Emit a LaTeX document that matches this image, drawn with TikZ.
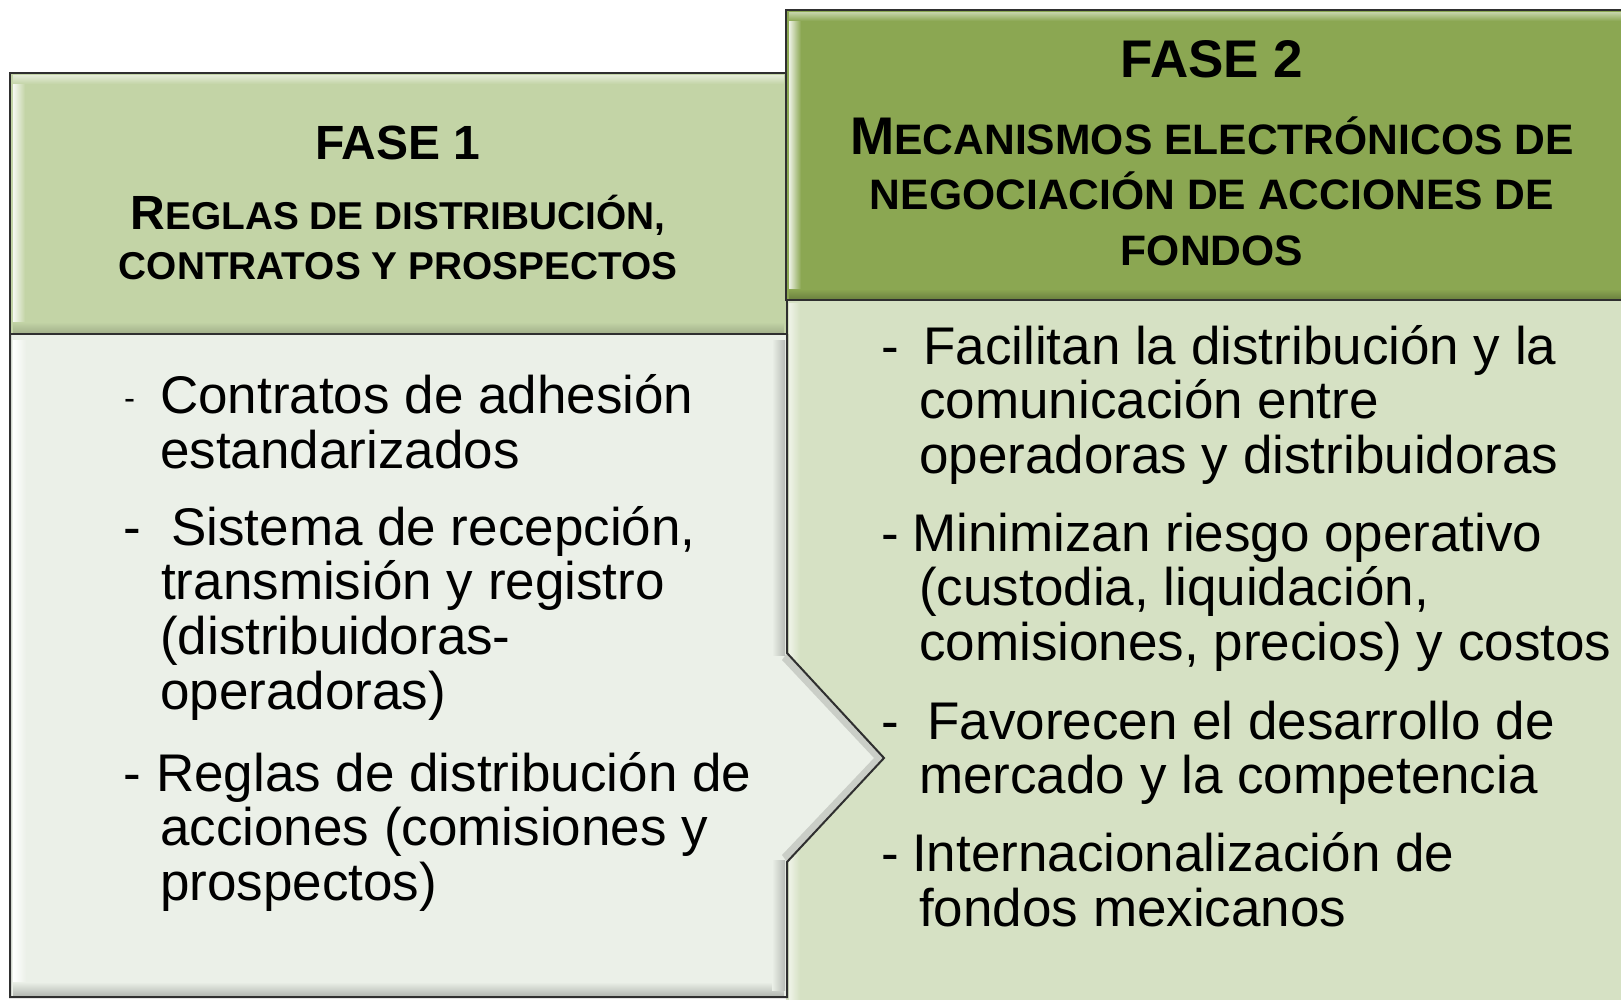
\documentclass[tikz,border=0pt]{standalone}
\usepackage{fontspec}
\setmainfont{Liberation Sans}
\definecolor{hdLc}{HTML}{C3D4A6}
\definecolor{hdRc}{HTML}{8BA752}
\definecolor{bdLc}{HTML}{EBF0E8}
\definecolor{bdRc}{HTML}{D6E1C4}
\definecolor{edgec}{HTML}{2F2F2F}
\newcommand{\bigL}[1]{{\fontsize{48}{50}\selectfont #1}}
\newcommand{\smlL}[1]{{\fontsize{38.8}{50}\selectfont #1}}
\newcommand{\bigR}[1]{{\fontsize{53}{55}\selectfont #1}}
\newcommand{\smlR}[1]{{\fontsize{42.6}{55}\selectfont #1}}
\tikzset{
  boxline/.style={draw=edgec, line width=2pt, line join=miter},
  btxt/.style={anchor=base west, inner sep=0pt, font=\fontsize{53}{55}\selectfont},
  smalldash/.style={anchor=base west, inner sep=0pt, font=\fontsize{33}{33}\selectfont},
  htxt/.style={anchor=base, inner sep=0pt, font=\bfseries},
}
\begin{document}
\begin{tikzpicture}[x=1pt,y=-1pt]
\useasboundingbox (0,0) rectangle (1621,1000);
\clip (0,0) rectangle (1621,1000);
\fill[white] (0,0) rectangle (1621,1000);

% right body
\fill[bdRc] (786,300) rectangle (1640,1010);
\shade[left color=white!60!bdRc, right color=bdRc] (789,303) rectangle (800,1000);

% left body with chevron
\coordinate (lbTL) at (10,334);
\coordinate (lbBL) at (10,997);
\coordinate (lbBR) at (787,997);
\coordinate (nA) at (787,862);
\coordinate (nTip) at (884,758);
\coordinate (nB) at (787,653);
\coordinate (lbTR) at (787,334);
\fill[bdLc] (lbTL) -- (lbBL) -- (lbBR) -- (nA) -- (nTip) -- (nB) -- (lbTR) -- cycle;
\shade[left color=white, right color=bdLc] (13,340) rectangle (26,990);
\shade[top color=bdLc, bottom color=black!22!bdLc] (13,982) rectangle (784,995);
\shade[left color=bdLc, right color=black!22!bdLc] (772,340) rectangle (785,655);
\shade[left color=bdLc, right color=black!22!bdLc] (772,860) rectangle (785,990);
\fill[black!14!bdLc] (787,653) -- (884,758) -- (874,758) -- (782,660) -- cycle;
\fill[black!14!bdLc] (787,862) -- (884,758) -- (874,758) -- (782,855) -- cycle;
\draw[boxline] (lbTL) -- (lbBL) -- (lbBR) -- (nA) -- (nTip) -- (nB) -- (lbTR);

% left header
\fill[hdLc] (10,73) rectangle (787,334);
\shade[left color=white!85!hdLc, right color=hdLc] (13,85) rectangle (25,322);
\shade[top color=white!50!hdLc, bottom color=hdLc] (13,76) rectangle (784,84);
\shade[top color=hdLc, bottom color=black!15!hdLc] (13,322) rectangle (784,332);
\draw[boxline] (10,73) rectangle (787,334);

% right header
\fill[hdRc] (786,10) rectangle (1640,300);
\shade[left color=white!85!hdRc, right color=hdRc] (789,22) rectangle (801,288);
\shade[top color=white!45!hdRc, bottom color=hdRc] (789,13) rectangle (1640,21);
\shade[top color=hdRc, bottom color=black!20!hdRc] (789,289) rectangle (1640,298);
\draw[boxline] (1640,10) -- (786,10) -- (786,300) -- (1640,300);

% header texts
\node[htxt, font=\bfseries\fontsize{48}{50}\selectfont] (f1) at (398,160) {FASE 1};
\node[htxt] (f1a) at (398,229.5) {\bigL{R}\smlL{EGLAS DE DISTRIBUCIÓN,}};
\node[htxt] (f1b) at (398,279) {\smlL{CONTRATOS Y PROSPECTOS}};

\node[htxt, font=\bfseries\fontsize{53}{55}\selectfont] (f2) at (1212,78) {FASE 2};
\node[htxt] (f2a) at (1212,155) {\bigR{M}\smlR{ECANISMOS ELECTRÓNICOS DE}};
\node[htxt] (f2b) at (1212,210) {\smlR{NEGOCIACIÓN DE ACCIONES DE}};
\node[htxt] (f2c) at (1212,265.7) {\smlR{FONDOS}};

% left body texts
\node[smalldash] (d1) at (124,409) {-};
\node[btxt] (l1a) at (160,413.5) {Contratos de adhesión};
\node[btxt] (l1b) at (160,468.2) {estandarizados};
\node[btxt] (d2) at (123,545) {-};
\node[btxt] (l2a) at (171,545) {Sistema de recepción,};
\node[btxt] (l2b) at (161,599.7) {transmisión y registro};
\node[btxt] (l2c) at (160,654.4) {(distribuidoras-};
\node[btxt] (l2d) at (160,709.1) {operadoras)};
\node[btxt] (d3) at (123,791) {-};
\node[btxt] (l3a) at (156,791) {Reglas de distribución de};
\node[btxt] (l3b) at (160,845.7) {acciones (comisiones y};
\node[btxt] (l3c) at (160,900.4) {prospectos)};

% right body texts
\node[btxt] (e1) at (881,364) {-};
\node[btxt] (r1a) at (923,364) {Facilitan la distribución y la};
\node[btxt] (r1b) at (919,418.7) {comunicación entre};
\node[btxt] (r1c) at (919,473.4) {operadoras y distribuidoras};
\node[btxt] (e2) at (881,551) {-};
\node[btxt] (r2a) at (912,551) {Minimizan riesgo operativo};
\node[btxt] (r2b) at (919,605.8) {(custodia, liquidación,};
\node[btxt] (r2c) at (919,660.5) {comisiones, precios) y costos};
\node[btxt] (e3) at (881,739) {-};
\node[btxt] (r3a) at (927,739) {Favorecen el desarrollo de};
\node[btxt] (r3b) at (919,793.7) {mercado y la competencia};
\node[btxt] (e4) at (881,871.5) {-};
\node[btxt] (r4a) at (912,871.5) {Internacionalización de};
\node[btxt] (r4b) at (919,926.2) {fondos mexicanos};
\end{tikzpicture}
\end{document}
